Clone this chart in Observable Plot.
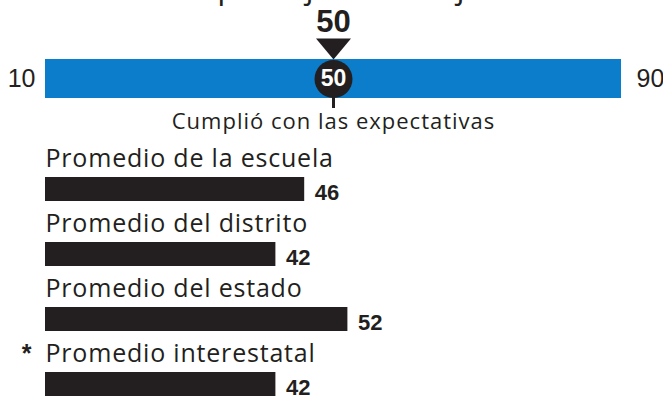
<!DOCTYPE html>
<html>
<head>
<meta charset="utf-8">
<script src="https://cdn.jsdelivr.net/npm/d3@7"></script>
<script src="https://cdn.jsdelivr.net/npm/@observablehq/plot@0.6"></script>
<style>
  html, body { margin: 0; padding: 0; background: #fff; }
  #chart { width: 663px; height: 400px; overflow: hidden; }
  #chart svg { display: block; overflow: visible; }
</style>
</head>
<body>
<div id="chart"></div>
<script>
// ---- data ----
const titleText = "El puntaje de su hijo";
const scaleTicks = [10, 90];
const studentScore = [50];
const levelLabel = ["Cumplió con las expectativas"];
const comparisonNames = ["Promedio de la escuela", "Promedio del distrito", "Promedio del estado", "Promedio interestatal"];
const comparisonValues = [46, 42, 52, 42];
const comparisonMarks = ["", "", "", "*"];

// ---- styles ----
const dark = "#231f20";
const blue = "#0b7dca";
const labelFont = "'Open Sans', sans-serif";
const numFont = "'Liberation Sans', Arial, sans-serif";

const xDomain = [scaleTicks[0], scaleTicks[scaleTicks.length - 1]];
const score = studentScore[0];

// inverted triangle pointer symbol
const pointer = {
  draw(ctx) {
    ctx.moveTo(-17.5, -21);
    ctx.lineTo(17.5, -21);
    ctx.lineTo(0, 0);
    ctx.closePath();
  }
};

const meter = Plot.plot({
  width: 663,
  height: 140,
  marginTop: 59,
  marginBottom: 42,
  marginLeft: 45,
  marginRight: 42,
  x: {domain: xDomain, axis: null},
  marks: [
    Plot.text([titleText], {frameAnchor: "top", text: d => d, dy: -62, lineAnchor: "bottom",
      fontSize: 32, fontFamily: labelFont, fill: dark}),
    Plot.barX([xDomain], {x1: d => d[0], x2: d => d[1], fill: blue}),
    Plot.ruleX(studentScore, {x: d => d, insetTop: 20, insetBottom: -10, stroke: dark, strokeWidth: 3}),
    Plot.dot(studentScore, {x: d => d, frameAnchor: "top", symbol: pointer, r: 5, fill: dark, stroke: "none"}),
    Plot.dot(studentScore, {x: d => d, frameAnchor: "middle", r: 19, fill: dark, stroke: "none"}),
    Plot.text(studentScore, {x: d => d, frameAnchor: "middle", text: d => String(d), lineAnchor: "middle",
      fill: "white", fontSize: 23, fontWeight: "bold", fontFamily: numFont}),
    Plot.text(studentScore, {x: d => d, frameAnchor: "top", text: d => String(d), lineAnchor: "bottom",
      dy: -28, fill: dark, fontSize: 31, fontWeight: "bold", fontFamily: numFont}),
    Plot.text([scaleTicks[0]], {x: d => d, frameAnchor: "middle", text: d => String(d), textAnchor: "end",
      lineAnchor: "middle", dx: -10, fontSize: 25, fontFamily: numFont, fill: dark}),
    Plot.text([scaleTicks[scaleTicks.length - 1]], {x: d => d, frameAnchor: "middle", text: d => String(d),
      textAnchor: "start", lineAnchor: "middle", dx: 15, fontSize: 25, fontFamily: numFont, fill: dark}),
    Plot.text(levelLabel, {x: () => score, frameAnchor: "bottom", text: d => d, lineAnchor: "bottom",
      dy: 30, fontSize: 22, fontFamily: labelFont, fill: dark})
  ]
});

const rows = comparisonNames.map((name, i) => ({name, value: comparisonValues[i], mark: comparisonMarks[i]}));

const bars = Plot.plot({
  width: 663,
  height: 260,
  marginTop: 36,
  marginBottom: 4,
  marginLeft: 45,
  marginRight: 42,
  x: {domain: xDomain, axis: null},
  y: {domain: comparisonNames, axis: null, paddingInner: 0.632, paddingOuter: 0},
  marks: [
    Plot.barX(rows, {x1: () => xDomain[0], x2: "value", y: "name", fill: dark}),
    Plot.text(rows, {x: () => xDomain[0], y: "name", text: "name", textAnchor: "start", lineAnchor: "bottom",
      dy: -23, fontSize: 25, fontFamily: labelFont, fill: dark}),
    Plot.text(rows, {x: () => xDomain[0], y: "name", text: "mark", textAnchor: "end", lineAnchor: "bottom",
      dx: -14, dy: -23, fontSize: 25, fontWeight: "bold", fontFamily: numFont, fill: dark}),
    Plot.text(rows, {x: "value", y: "name", text: d => String(d.value), textAnchor: "start", lineAnchor: "middle",
      dx: 10, dy: 3, fontSize: 22, fontWeight: "bold", fontFamily: numFont, fill: dark})
  ]
});

const chart = document.getElementById("chart");
chart.appendChild(meter);
chart.appendChild(bars);

// slightly wider letter spacing for the label font, as in the reference
d3.select(chart).selectAll("g").filter(function () {
  return (this.getAttribute("font-family") || "").includes("Open Sans");
}).each(function () {
  const fs = +this.getAttribute("font-size");
  this.setAttribute("letter-spacing", fs === 22 ? "1px" : fs === 25 ? "0.8px" : "0");
});
</script>
</body>
</html>
